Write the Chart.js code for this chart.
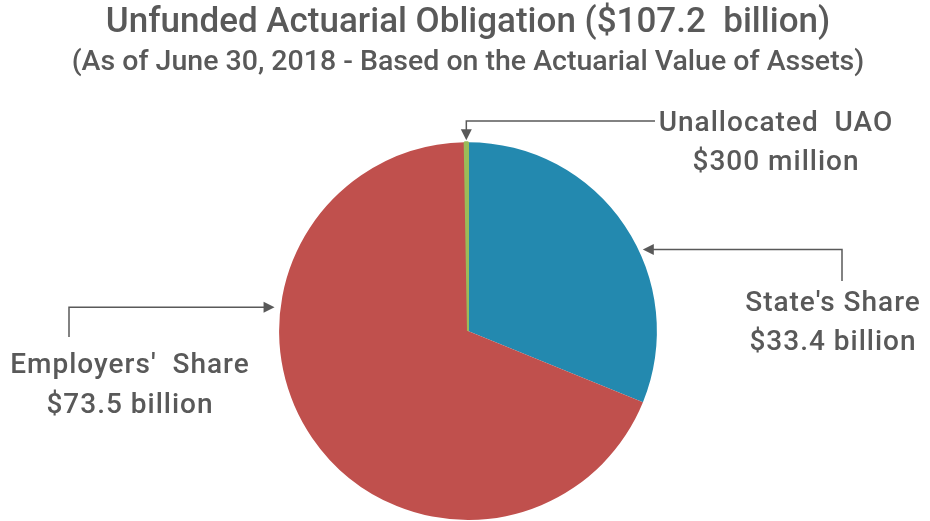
<!DOCTYPE html>
<html lang="en">
<head>
  <meta charset="UTF-8" />
  <title>Unfunded Actuarial Obligation</title>
  <script src="https://cdn.jsdelivr.net/npm/chart.js"></script>
  <style>
    body { margin: 0; background: #fff; }
    #wrap { width: 930px; height: 521px; }
  </style>
</head>
<body>
  <div id="wrap"><canvas id="pieChart"></canvas></div>

  <script>
    const categories = ["State's Share", "Employers' Share", "Unallocated UAO"];
    const values = [33.4, 73.5, 0.3]; // $ billion
    const valueLabels = ['$33.4 billion', '$73.5 billion', '$300 million'];
    const sliceColors = ['#2389AF', '#C0504D', '#9BBB59'];

    const grey = '#595959';
    const fontFamily = 'Roboto, "Liberation Sans", Arial, sans-serif';

    // callout layout: where the arrow touches the pie and where the label sits
    const callouts = [
      { index: 0, angle: 65, gap: 4, route: 'h', turnX: 842, endY: 281, textX: 833, textY: [304, 343], lines: ["State's Share"] },
      { index: 1, angle: 277, gap: 6, route: 'h', turnX: 69, endY: 337, textX: 130, textY: [366, 406], lines: ["Employers'  Share"] },
      { index: 2, angle: null, gap: 2, route: 'v', turnY: 121, endX: 655, textX: 776, textY: [124, 163], lines: ['Unallocated  UAO'] }
    ];

    function arrowHead(ctx, x, y, dir) {
      const len = 11, half = 5.5;
      ctx.beginPath();
      ctx.moveTo(x, y);
      if (dir === 'down') { ctx.lineTo(x - half, y - len); ctx.lineTo(x + half, y - len); }
      if (dir === 'left') { ctx.lineTo(x + len, y - half); ctx.lineTo(x + len, y + half); }
      if (dir === 'right') { ctx.lineTo(x - len, y - half); ctx.lineTo(x - len, y + half); }
      ctx.closePath();
      ctx.fill();
    }

    const calloutPlugin = {
      id: 'callouts',
      afterDraw(chart) {
        const ctx = chart.ctx;
        const arcs = chart.getDatasetMeta(0).data;
        ctx.save();
        ctx.strokeStyle = grey;
        ctx.fillStyle = grey;
        ctx.lineWidth = 1.5;
        callouts.forEach(c => {
          const arc = arcs[c.index];
          const a = c.angle === null
            ? (arc.startAngle + arc.endAngle) / 2
            : c.angle * Math.PI / 180 - Math.PI / 2;
          const r = arc.outerRadius + c.gap;
          const tx = arc.x + r * Math.cos(a);
          const ty = arc.y + r * Math.sin(a);
          ctx.beginPath();
          if (c.route === 'h') {
            const dir = c.turnX > tx ? 'left' : 'right';
            const start = dir === 'left' ? tx + 10 : tx - 10;
            ctx.moveTo(start, ty);
            ctx.lineTo(c.turnX, ty);
            ctx.lineTo(c.turnX, c.endY);
            ctx.stroke();
            arrowHead(ctx, tx, ty, dir);
          } else {
            ctx.moveTo(tx, ty - 10);
            ctx.lineTo(tx, c.turnY);
            ctx.lineTo(c.endX, c.turnY);
            ctx.stroke();
            arrowHead(ctx, tx, ty, 'down');
          }
          ctx.font = '500 28px ' + fontFamily;
          ctx.letterSpacing = '1px';
          ctx.textAlign = 'center';
          ctx.textBaseline = 'middle';
          ctx.fillText(c.lines[0], c.textX, c.textY[0]);
          ctx.fillText(valueLabels[c.index], c.textX, c.textY[1]);
        });
        ctx.restore();
      }
    };

    new Chart(document.getElementById('pieChart'), {
      type: 'pie',
      data: {
        labels: categories,
        datasets: [{
          data: values,
          backgroundColor: sliceColors,
          borderColor: sliceColors,
          borderWidth: [0, 0, 2]
        }]
      },
      options: {
        responsive: true,
        maintainAspectRatio: false,
        animation: false,
        layout: { padding: { top: 0, bottom: -1, left: 6, right: 0 } },
        plugins: {
          legend: { display: false },
          tooltip: { enabled: false },
          title: {
            display: true,
            text: 'Unfunded Actuarial Obligation ($107.2  billion)',
            color: grey,
            font: { family: fontFamily, size: 35, weight: '500' },
            padding: { top: 2, bottom: 0 }
          },
          subtitle: {
            display: true,
            text: '(As of June 30, 2018 - Based on the Actuarial Value of Assets)',
            color: grey,
            font: { family: fontFamily, size: 28.5, weight: '500' },
            padding: { top: 2, bottom: 61 }
          }
        }
      },
      plugins: [calloutPlugin]
    });
  </script>
</body>
</html>
